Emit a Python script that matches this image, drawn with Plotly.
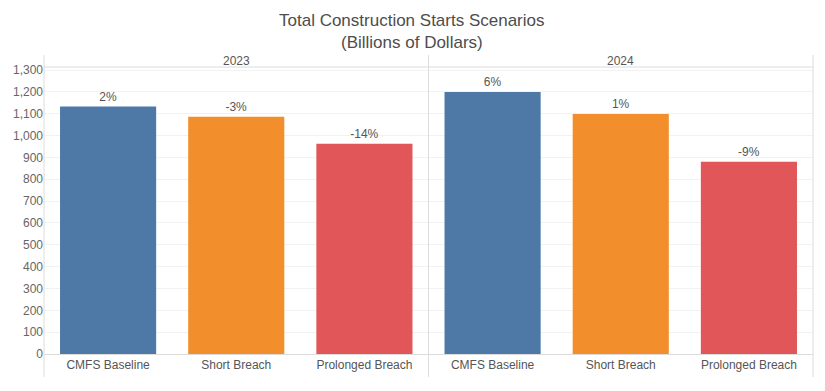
import plotly.graph_objects as go

years = ["2023", "2024"]
scenarios = ["CMFS Baseline", "Short Breach", "Prolonged Breach"]
values_2023 = [1133, 1086, 963]
values_2024 = [1199, 1099, 880]
pct_2023 = ["2%", "-3%", "-14%"]
pct_2024 = ["6%", "1%", "-9%"]
colors = ["#4E79A7", "#F28E2B", "#E15759"]
y_ticks = list(range(0, 1301, 100))

FONT = "Arial, Liberation Sans, sans-serif"
W, H = 825, 391
ML, MR, MT, MB = 44, 12, 67, 37
plot_h = H - MT - MB

fig = go.Figure()
for xa, vals, pcts in [("x", values_2023, pct_2023), ("x2", values_2024, pct_2024)]:
    fig.add_trace(go.Bar(
        x=scenarios, y=vals, xaxis=xa, yaxis="y",
        marker=dict(color=colors, line=dict(width=0)),
        text=pcts, textposition="outside", cliponaxis=False,
        textfont=dict(family=FONT, size=12, color="#555555"),
        hoverinfo="x+y", showlegend=False,
    ))

axis_common = dict(
    showgrid=False, zeroline=False, showline=True, linecolor="#dcdcdc",
    linewidth=1, ticks="", tickfont=dict(family=FONT, size=12, color="#555555"),
    fixedrange=True, automargin=False,
)
fig.update_layout(
    width=W, height=H,
    margin=dict(l=ML, r=MR, t=MT, b=MB),
    paper_bgcolor="white", plot_bgcolor="white",
    bargap=0.25,
    xaxis=dict(domain=[0, 0.5], anchor="y", **axis_common),
    xaxis2=dict(domain=[0.5, 1], anchor="y", **axis_common),
    yaxis=dict(
        range=[0, 1314], tickvals=y_ticks, tickformat=",",
        showgrid=True, gridcolor="#f2f2f2", gridwidth=1,
        zeroline=False, showline=False, ticks="", automargin=False,
        tickfont=dict(family=FONT, size=12, color="#666666"),
        fixedrange=True,
    ),
    font=dict(family=FONT),
)

# Title lines
fig.add_annotation(text="Total Construction Starts Scenarios", xref="paper", yref="paper",
                   x=(412 - ML) / (W - ML - MR), y=1 + (MT - 20) / plot_h, showarrow=False,
                   font=dict(family=FONT, size=17, color="#4d4d4d"), xanchor="center", yanchor="middle")
fig.add_annotation(text="(Billions of Dollars)", xref="paper", yref="paper",
                   x=(412 - ML) / (W - ML - MR), y=1 + (MT - 42) / plot_h, showarrow=False,
                   font=dict(family=FONT, size=17, color="#4d4d4d"), xanchor="center", yanchor="middle")

# Panel headers
for i, yr in enumerate(years):
    fig.add_annotation(text=yr, xref="paper", yref="paper", x=0.25 + 0.5 * i,
                       y=1 + (MT - 61) / plot_h, showarrow=False,
                       font=dict(family=FONT, size=12, color="#555555"),
                       xanchor="center", yanchor="middle")

# Frame lines
top_y = 1 + (MT - 55) / plot_h
bot_y = -(377 - (H - MB)) / plot_h
for xv in [0, 0.5, 1]:
    fig.add_shape(type="line", xref="paper", yref="paper", x0=xv, x1=xv, y0=bot_y, y1=top_y,
                  line=dict(color="#dcdcdc", width=1))
fig.add_shape(type="line", xref="paper", yref="paper", x0=0, x1=1, y0=1, y1=1,
              line=dict(color="#dcdcdc", width=1))

fig.write_html("out.html", config={"displayModeBar": False},
               post_script="document.body.style.margin='0';document.body.style.overflow='hidden';")
